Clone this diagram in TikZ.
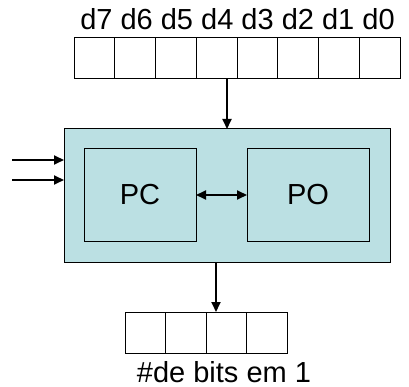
\documentclass[tikz,border=0pt]{standalone}
\usepackage{fontspec}
\setmainfont{Liberation Sans}
\usetikzlibrary{arrows.meta}
\definecolor{boxfill}{HTML}{BBE0E3}
\begin{document}
\begin{tikzpicture}[x=1pt,y=-1pt,
  line width=1pt,
  cell/.style={draw=black, line width=1pt, minimum width=40.75pt, minimum height=41pt, inner sep=0pt, outer sep=0pt, anchor=north west},
  cellsmall/.style={cell, minimum width=40.5pt},
  unit/.style={draw=black, line width=1pt, fill=boxfill, inner sep=0pt, outer sep=0pt},
  lbl/.style={font=\fontsize{29}{33}\selectfont, inner sep=0pt},
  tip/.style={Triangle[length=10pt,width=9pt]},
  arr/.style={-{Triangle[length=10pt,width=9pt]}, line width=1.8pt}]
\useasboundingbox (0,0) rectangle (409,387);

% input register d7..d0
\foreach \i in {0,...,7}
  \node[cell] (in\i) at ({74+40.75*\i},38) {};
\node[lbl, anchor=base] (inlbl) at (237.5,30) {d7 d6 d5 d4 d3 d2 d1 d0};

% main unit with control part and operative part
\node[unit, minimum width=326pt, minimum height=133pt, anchor=north west] (sys) at (64,129) {};
\node[unit, minimum width=112pt, minimum height=92pt, anchor=north west, lbl] (pc) at (84,149) {PC};
\node[unit, minimum width=122pt, minimum height=92pt, anchor=north west, lbl] (po) at (247,149) {PO};

% output register
\foreach \i in {0,...,3}
  \node[cellsmall] (out\i) at ({125+40.5*\i},312) {};
\node[lbl, anchor=base] (outlbl) at (224,382) {\#de bits em 1};

% connectors
\coordinate (inA) at (12,160);
\coordinate (inB) at (12,180);
\coordinate (topx) at (227,0);
\coordinate (botx) at (216,0);
\draw[arr] (topx |- in0.south) -- (topx |- sys.north);
\draw[arr] (inA) -- (inA -| sys.west);
\draw[arr] (inB) -- (inB -| sys.west);
\draw[{Triangle[length=10pt,width=9pt]}-{Triangle[length=10pt,width=9pt]}, line width=1.8pt] (pc.east) -- (po.west);
\draw[arr] (botx |- sys.south) -- (botx |- out0.north);
\end{tikzpicture}
\end{document}
